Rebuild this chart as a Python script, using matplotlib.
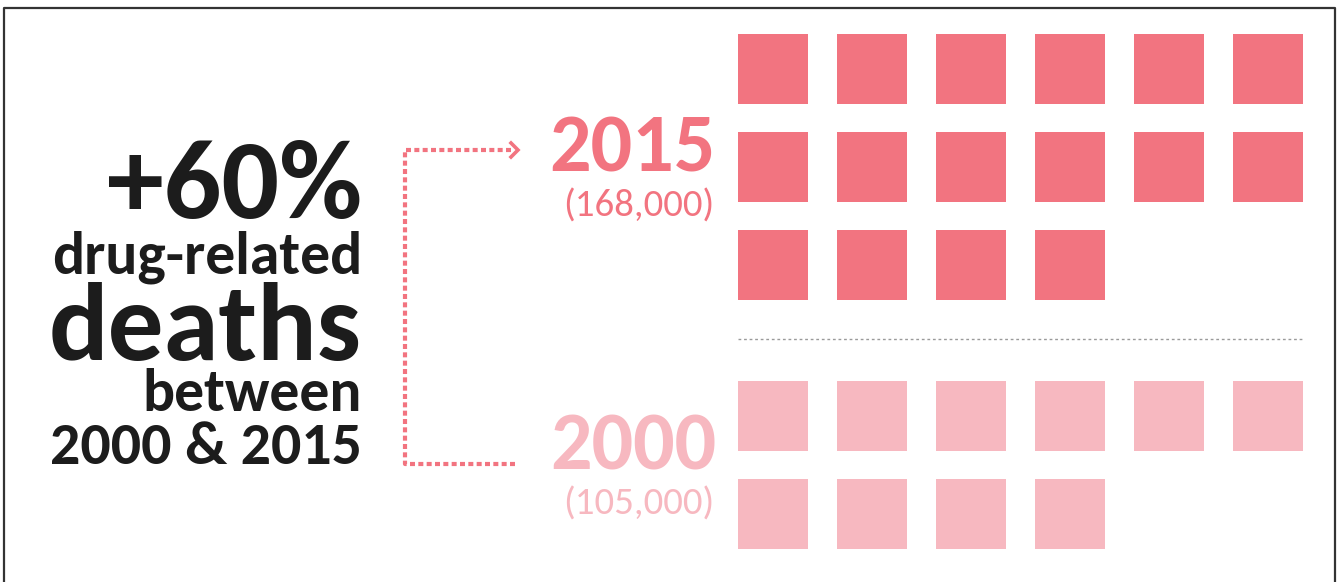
import matplotlib
matplotlib.use("Agg")
import matplotlib.pyplot as plt
from matplotlib import font_manager
from matplotlib.patches import Rectangle

# data
years = [2015, 2000]
deaths = [168000, 105000]
death_labels = ["(168,000)", "(105,000)"]
per_square = 10500
headline = ["+60%", "drug-related", "deaths", "between", "2000 & 2015"]

_names = {f.name for f in font_manager.fontManager.ttflist}
FONT = next((n for n in ["Carlito", "Lato", "Open Sans"] if n in _names), "DejaVu Sans")
plt.rcParams["font.family"] = [FONT, "DejaVu Sans"]

DARK = "#1c1c1c"
PINK = "#f27480"
LIGHT = "#f7b8c0"
colors = [PINK, LIGHT]

W, H = 1339, 582
fig = plt.figure(figsize=(W / 100, H / 100), dpi=100)
ax = fig.add_axes([0, 0, 1, 1])
ax.set_xlim(0, W)
ax.set_ylim(H, 0)
ax.axis("off")

# frame
ax.plot([4, 4, 1335, 1335], [H + 5, 7.5, 7.5, H + 5], color="#333333", lw=1.6)

# headline block, right aligned
sizes = [82, 43, 80, 43, 43]
baselines = [218, 273, 360, 411, 464]
for txt, fs, yb in zip(headline, sizes, baselines):
    ax.text(362, yb, txt, ha="right", va="baseline", fontsize=fs,
            fontweight="bold", color=DARK)

# connector
dot = dict(color=PINK, lw=3.0, linestyle=(0, (1.2, 0.8)), dash_capstyle="butt")
ax.plot([511, 405, 405, 518], [150, 150, 464, 464], **dot)
ax.plot([511, 518, 511], [143, 150, 157], color=PINK, lw=2.6, solid_joinstyle="miter")

# year labels
year_base = [172, 470]
count_base = [217, 515]
for yr, lab, c, yb, cb in zip(years, death_labels, colors, year_base, count_base):
    ax.text(716, yb, str(yr), ha="right", va="baseline", fontsize=59,
            fontweight="bold", color=c)
    ax.text(714, cb, lab, ha="right", va="baseline", fontsize=28, color=c)

# square grid
ncols = 6
x0, pitch_x, side = 738, 99, 70
row_tops = [34, 381]
pitch_y = 98
for d, c, top in zip(deaths, colors, row_tops):
    n = round(d / per_square)
    for i in range(n):
        col, row = i % ncols, i // ncols
        ax.add_patch(Rectangle((x0 + col * pitch_x, top + row * pitch_y), side, side,
                               facecolor=c, edgecolor="none"))

# separator
ax.plot([738, 1303], [339, 339], color="#9a9a9a", lw=1.0, linestyle=(0, (2, 2)))

fig.savefig("out.png", dpi=100, facecolor="white")
